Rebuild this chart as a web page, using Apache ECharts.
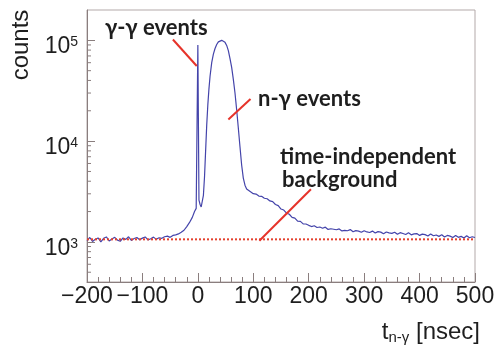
<!DOCTYPE html>
<html>
<head>
<meta charset="utf-8">
<script src="https://cdn.jsdelivr.net/npm/echarts@6/dist/echarts.min.js"></script>
<style>
  html, body { margin: 0; padding: 0; background: #fff; }
  #chart { width: 495px; height: 345px; }
</style>
</head>
<body>
<div id="chart"></div>
<script>
// Time difference between neutron and gamma hits (ns) and counts per bin
const times = [
  -200, -195, -190, -185, -180, -175, -170, -165, -160, -155,
  -150, -145, -140, -135, -130, -125, -120, -115, -110, -105,
  -100, -95, -90, -85, -80, -75, -70, -65, -60, -55,
  -50, -45, -40, -35, -30, -25, -20, -15, -10, -6,
  -3, -1, 0, 1, 2, 4, 6, 8, 10, 12,
  14, 16, 18, 20, 22, 25, 28, 31, 34, 37,
  40, 43, 46, 49, 52, 55, 58, 61, 64, 67,
  70, 73, 76, 79, 82, 85, 88, 91, 95, 100,
  105, 110, 115, 120, 125, 130, 135, 140, 145, 150,
  155, 160, 165, 170, 175, 180, 185, 190, 195, 200,
  205, 210, 215, 220, 225, 230, 235, 240, 245, 250,
  255, 260, 265, 270, 275, 280, 285, 290, 295, 300,
  305, 310, 315, 320, 325, 330, 335, 340, 345, 350,
  355, 360, 365, 370, 375, 380, 385, 390, 395, 400,
  405, 410, 415, 420, 425, 430, 435, 440, 445, 450,
  455, 460, 465, 470, 475, 480, 485, 490, 495, 500
];
const counts = [
  1030, 1105, 1010, 1060, 1095, 1000, 1085, 1120, 1020, 1070,
  1110, 1040, 1015, 1095, 1060, 1125, 1035, 1080, 1105, 1050,
  1090, 1120, 1045, 1075, 1115, 1060, 1100, 1085, 1125, 1140,
  1110, 1160, 1175, 1200, 1245, 1305, 1420, 1560, 1750, 2000,
  2150, 2250, 90000, 88000, 2600, 2350, 2220, 2300, 2900, 4400,
  8000, 14500, 23000, 33000, 44000, 60000, 73000, 83000, 91000, 96500,
  99500, 100000, 99000, 95500, 89000, 79000, 66000, 54000, 41000, 30000,
  20500, 13500, 8800, 5800, 4300, 3650, 3350, 3220, 3150, 3010,
  2980, 2850, 2830, 2710, 2680, 2550, 2510, 2350, 2290, 2120,
  2070, 1930, 1880, 1750, 1720, 1610, 1600, 1510, 1505, 1460,
  1420, 1445, 1390, 1405, 1365, 1400, 1330, 1350, 1335, 1320,
  1345, 1285, 1300, 1290, 1325, 1260, 1295, 1280, 1245, 1290,
  1255, 1240, 1280, 1225, 1265, 1250, 1205, 1255, 1230, 1215,
  1245, 1190, 1235, 1210, 1185, 1230, 1175, 1200, 1210, 1160,
  1195, 1180, 1145, 1200, 1150, 1170, 1135, 1175, 1120, 1160,
  1140, 1105, 1160, 1110, 1135, 1095, 1150, 1100, 1125, 1105
];

// Flat level of the time-independent background
const backgroundLevel = 1060;

// Annotation pointers, in (ns, counts)
const gammaGammaPointer = [[-45, 102000], [-2, 55600]];
const neutronGammaPointer = [[95, 26200], [55, 16400]];
const backgroundPointer = [[204, 3330], [111, 1028]];

// Minor ticks of the log axis (2..9 x 10^n)
const minorTickValues = [
  500, 600, 700, 800, 900,
  2000, 3000, 4000, 5000, 6000, 7000, 8000, 9000,
  20000, 30000, 40000, 50000, 60000, 70000, 80000, 90000
];

const axisColor = '#8a7e7e';
const textColor = '#1e1e1e';
const mainFont = 'Liberation Sans';
const noteFont = 'bold 22px Lato';

const chart = echarts.init(document.getElementById('chart'), null, { renderer: 'canvas' });

const lineData = times.map((t, i) => [t, counts[i]]);

function pointerSeries(points) {
  return {
    type: 'line',
    data: points,
    showSymbol: false,
    silent: true,
    clip: false,
    z: 5,
    lineStyle: { color: '#e6332a', width: 2 }
  };
}

function note(text, x, y) {
  return {
    type: 'text', x: x, y: y,
    style: { text: text, font: noteFont, fill: textColor, align: 'left', verticalAlign: 'middle' }
  };
}

chart.setOption({
  animation: false,
  backgroundColor: '#ffffff',
  grid: {
    left: 87, right: 20, top: 10, bottom: 63,
    show: true, borderColor: '#b3a9a9', borderWidth: 1,
    containLabel: false,
    outerBoundsMode: 'none'
  },
  xAxis: {
    type: 'value',
    min: -200, max: 500, interval: 100,
    axisLine: { show: true, onZero: false, lineStyle: { color: axisColor, width: 1 } },
    axisTick: { show: true, inside: true, length: 9, lineStyle: { color: axisColor } },
    minorTick: { show: true, splitNumber: 5, length: 5, lineStyle: { color: axisColor } },
    splitLine: { show: false },
    minorSplitLine: { show: false },
    axisLabel: {
      margin: 3,
      color: textColor,
      fontFamily: mainFont,
      fontSize: 23,
      formatter: v => String(v).replace('-', '\u2212')
    }
  },
  yAxis: {
    type: 'log',
    logBase: 10,
    min: 400, max: 200000,
    axisLine: { show: true, onZero: false, lineStyle: { color: axisColor, width: 1 } },
    axisTick: { show: true, inside: true, length: 8, lineStyle: { color: axisColor } },
    splitLine: { show: false },
    axisLabel: {
      margin: 9,
      showMinLabel: false,
      showMaxLabel: false,
      padding: [13, 0, 0, 0],
      color: textColor,
      fontFamily: mainFont,
      formatter: v => '{b|10}{s|' + Math.round(Math.log10(v)) + '}',
      rich: {
        b: { fontSize: 23, fontFamily: mainFont, color: textColor, lineHeight: 23 },
        s: { fontSize: 14, fontFamily: mainFont, color: textColor, verticalAlign: 'top', lineHeight: 14 }
      }
    }
  },
  series: [
    {
      type: 'custom',
      silent: true,
      clip: false,
      z: 3,
      data: minorTickValues.map(v => [-200, v]),
      renderItem: (params, api) => {
        const p = api.coord([api.value(0), api.value(1)]);
        return {
          type: 'line',
          shape: { x1: p[0], y1: p[1], x2: p[0] + 4, y2: p[1] },
          style: { stroke: axisColor, lineWidth: 1 }
        };
      }
    },
    {
      type: 'line',
      data: lineData,
      showSymbol: false,
      silent: true,
      z: 2,
      lineStyle: { color: '#4444aa', width: 1.2 }
    },
    {
      type: 'line',
      data: [[-200, backgroundLevel], [500, backgroundLevel]],
      showSymbol: false,
      silent: true,
      z: 4,
      lineStyle: { color: '#e4412e', width: 2, type: [2, 2] }
    },
    pointerSeries(gammaGammaPointer),
    pointerSeries(neutronGammaPointer),
    pointerSeries(backgroundPointer)
  ],
  graphic: [
    {
      type: 'text', x: 21, y: 45, rotation: Math.PI / 2,
      style: { text: 'counts', font: '24px "Liberation Sans"', fill: textColor, align: 'center', verticalAlign: 'middle' }
    },
    {
      type: 'text', x: 480, y: 332,
      style: {
        text: '{m|t}{s|n-\u03b3}{m| [nsec]}',
        align: 'right', verticalAlign: 'middle',
        rich: {
          m: { fontSize: 24, fontFamily: mainFont, fill: textColor, lineHeight: 26 },
          s: { fontSize: 15, fontFamily: mainFont, fill: textColor, verticalAlign: 'bottom', lineHeight: 15 }
        }
      }
    },
    note('\u03b3-\u03b3 events', 105, 28),
    note('n-\u03b3 events', 258, 99),
    note('time-independent', 280, 157),
    note('background', 282, 180)
  ]
});
</script>
</body>
</html>
